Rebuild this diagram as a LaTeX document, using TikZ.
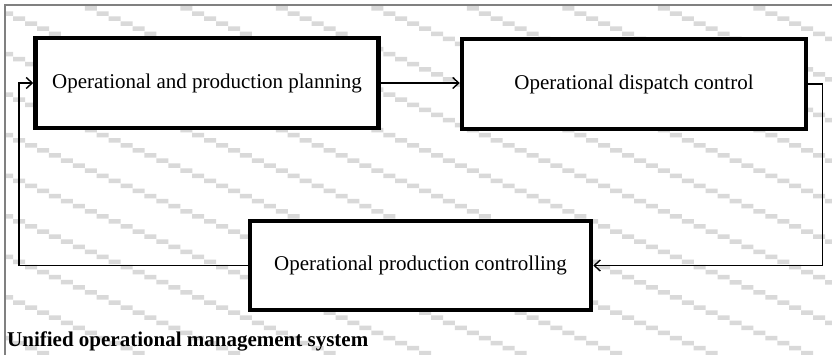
\documentclass[tikz,border=0pt]{standalone}
\usepackage{fontspec}
\setmainfont{Liberation Serif}
\usetikzlibrary{arrows.meta}
\definecolor{hatchcol}{RGB}{217,217,217}
\definecolor{framecol}{RGB}{128,128,128}
\tikzset{
  box/.style={draw=black, fill=white, line width=4.5pt, line join=miter,
    inner sep=0pt, font=\fontsize{21}{25}\selectfont},
  conn/.style={draw=black, line width=1.6pt},
  arr/.style={conn, -{Straight Barb[length=6pt,width=11pt,line width=1.4pt]}},
  caption/.style={font=\bfseries\fontsize{21}{25}\selectfont, inner sep=0pt, anchor=base west},
}
\begin{document}
\begin{tikzpicture}[x=1pt,y=-1pt]
\useasboundingbox (0,0) rectangle (832,355);
\fill[white] (0,0) rectangle (832,355);
% hatched background
\begin{scope}
\clip (5.8,5.8) rectangle (832,355);
\foreach \k in {-9,...,8}{
  \fill[hatchcol] \foreach \n in {-53,...,17}{
    ({634+11.94*\n},{280+5.07*\n+40.56*\k}) rectangle ++(12,4.5)
  };
}
\end{scope}
% frame
\draw[framecol, line width=1.4pt] (832,5) -- (5,5) -- (5,355);
% boxes
\node[box, minimum width=343pt, minimum height=90pt] (plan) at (207,83) {Operational and production planning};
\node[box, minimum width=344pt, minimum height=90pt] (disp) at (634,84) {Operational dispatch control};
\node[box, minimum width=341pt, minimum height=89pt] (ctrl) at (420.5,265.5) {Operational production controlling};
% connectors
\coordinate (rgt) at (822.5,0);
\coordinate (lft) at (19,0);
\draw[arr] (plan.east) -- (plan.east -| disp.west);
\draw[arr] (disp.east) -- (disp.east -| rgt) |- (ctrl.east);
\draw[arr] (ctrl.west) -- (ctrl.west -| lft) |- (plan.west);
% caption
\node[caption] (cap) at (7,346.5) {Unified operational management system};
\end{tikzpicture}
\end{document}
